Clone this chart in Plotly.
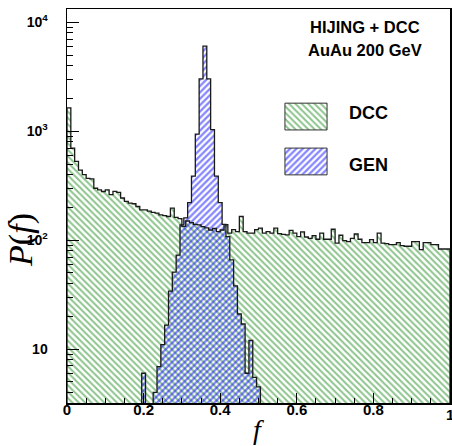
import plotly.graph_objects as go

# ---------------- data ----------------
# DCC histogram: 100 bins of width 0.01 from f = 0 to 1
dcc_bin_low = 0.0
bin_width = 0.01
dcc_counts = [
    1640, 700, 530, 440, 400, 370, 365, 300, 290, 280,
    290, 262, 281, 275, 244, 227, 219, 216, 204, 190,
    190, 185, 180, 177, 171, 168, 165, 197, 162, 158,
    134, 150, 145, 140, 138, 133, 130, 124, 128, 120,
    124, 139, 116, 125, 120, 165, 120, 116, 116, 125,
    129, 116, 120, 116, 129, 115, 113, 112, 123, 116,
    108, 119, 107, 104, 110, 102, 116, 102, 102, 126,
    94, 111, 99, 97, 104, 114, 102, 95, 95, 101,
    95, 116, 94, 93, 91, 91, 95, 89, 88, 88,
    97, 97, 82, 95, 95, 91, 91, 83, 83, 83,
]
# GEN histogram: bins of width 0.01 centred on 0.20 ... 0.50
gen_bin_low = 0.195
gen_counts = [
    6, 0, 0, 4, 6.9, 11, 16.6, 34, 51, 73,
    138, 160, 221, 387, 940, 3035, 6050, 3035, 1035, 387,
    221, 140, 108, 66, 38, 21, 17, 6, 12, 5.5,
    4.5,
]

y_range_log = [0.505, 4.123]
y_major = [10, 100, 1000, 10000]
y_major_text = ["<b>10</b>", "<b>10<sup>2</sup></b>", "<b>10<sup>3</sup></b>", "<b>10<sup>4</sup></b>"]
x_major = [0, 0.2, 0.4, 0.6, 0.8]
x_major_text = ["0", "0.2", "0.4", "0.6", "0.8"]
x_last_label = "1"

GREEN = "rgb(25,135,25)"
BLUE = "rgb(10,10,255)"
OUTLINE = "#1a1a1a"
HATCH_SIZE = 4.5
GREEN_SOLID = 0.45
BLUE_SOLID = 0.5


def centers(lo, n):
    return [lo + bin_width * (i + 0.5) for i in range(n)]


def step_outline(lo, counts, floor):
    edges = [lo + bin_width * i for i in range(len(counts) + 1)]
    ys = [c if c > 0 else floor for c in counts]
    xs = [edges[0]] + edges[:-1] + [edges[-1], edges[-1]]
    yy = [floor] + ys + [ys[-1], floor]
    return xs, yy


floor_val = 10 ** y_range_log[0] / 10

fig = go.Figure()

# filled hatched histograms
fig.add_trace(go.Bar(
    x=centers(dcc_bin_low, len(dcc_counts)), y=dcc_counts, width=bin_width,
    marker=dict(color="rgba(0,0,0,0)", line=dict(width=0),
                pattern=dict(shape="\\", fgcolor=GREEN, size=HATCH_SIZE, solidity=GREEN_SOLID)),
    showlegend=False, hoverinfo="skip"))
fig.add_trace(go.Bar(
    x=centers(gen_bin_low, len(gen_counts)), y=[c if c > 0 else None for c in gen_counts],
    width=bin_width,
    marker=dict(color="rgba(0,0,0,0)", line=dict(width=0),
                pattern=dict(shape="/", fgcolor=BLUE, size=HATCH_SIZE, solidity=BLUE_SOLID)),
    showlegend=False, hoverinfo="skip"))

# outlines
for lo, cnt in ((dcc_bin_low, dcc_counts), (gen_bin_low, gen_counts)):
    xs, yy = step_outline(lo, cnt, floor_val)
    fig.add_trace(go.Scatter(x=xs, y=yy, mode="lines", line=dict(color=OUTLINE, width=1.3, shape="hv"),
                             showlegend=False, hoverinfo="skip"))

# legend patches on an overlay axis (plot-area fractions)
legend_boxes = [
    ("DCC", "\\", GREEN, GREEN_SOLID, 0.569, 0.679, 0.693, 0.761, 0.735),
    ("GEN", "/", BLUE, BLUE_SOLID, 0.569, 0.679, 0.579, 0.647, 0.604),
]
for name, shp, col, sol, x0, x1, y0, y1, ty in legend_boxes:
    fig.add_trace(go.Scatter(
        x=[x0, x1, x1, x0, x0], y=[y0, y0, y1, y1, y0], xaxis="x2", yaxis="y2",
        mode="lines", fill="toself", fillcolor="rgba(0,0,0,0)",
        fillpattern=dict(shape=shp, fgcolor=col, size=HATCH_SIZE, solidity=sol),
        line=dict(color="#333333", width=1), showlegend=False, hoverinfo="skip"))

annotations = []
for name, shp, col, sol, x0, x1, y0, y1, ty in legend_boxes:
    annotations.append(dict(text="<b>" + name + "</b>", x=0.731, y=ty, xref="paper", yref="paper",
                            xanchor="left", yanchor="middle", showarrow=False,
                            font=dict(family="Liberation Sans", size=18, color="black")))
annotations += [
    dict(text="<b>HIJING + DCC</b>", x=0.778, y=0.955, xref="paper", yref="paper",
         xanchor="center", yanchor="middle", showarrow=False,
         font=dict(family="Liberation Sans", size=16.5, color="black")),
    dict(text="<b>AuAu 200 GeV</b>", x=0.778, y=0.896, xref="paper", yref="paper",
         xanchor="center", yanchor="middle", showarrow=False,
         font=dict(family="Liberation Sans", size=16.5, color="black")),
    dict(text="<i>P</i>(<i>f</i>)", x=-0.12, y=0.414, xref="paper", yref="paper",
         xanchor="center", yanchor="middle", showarrow=False, textangle=-90,
         font=dict(family="Liberation Serif", size=34, color="black")),
    dict(text="<i>f</i>", x=0.499, y=-0.066, xref="paper", yref="paper",
         xanchor="center", yanchor="middle", showarrow=False,
         font=dict(family="Liberation Serif", size=28, color="black")),
    dict(text="<b>" + x_last_label + "</b>", x=1.0, y=-0.003, xref="paper", yref="paper",
         xanchor="center", yanchor="top", showarrow=False,
         font=dict(family="Liberation Sans", size=15, color="black")),
]

minor_y = [m * 10 ** k for k in range(0, 5) for m in range(2, 10)]

fig.update_layout(
    width=452, height=446,
    margin=dict(l=67, r=2, t=9, b=43),
    paper_bgcolor="white", plot_bgcolor="rgba(0,0,0,0)",
    barmode="overlay", bargap=0,
    annotations=annotations,
    xaxis=dict(range=[0, 1], showgrid=False, zeroline=False, showline=True, linecolor="black",
               linewidth=1.5, mirror=True, ticks="inside", ticklen=10, tickwidth=1, tickcolor="black",
               tickvals=x_major, ticktext=x_major_text, automargin=False,
               tickfont=dict(family="Liberation Sans", size=15, color="black", weight="bold"),
               ticklabelstandoff=-8,
               minor=dict(ticks="inside", ticklen=5, tickwidth=1, tickcolor="black", dtick=0.05, showgrid=False)),
    yaxis=dict(type="log", range=y_range_log, showgrid=False, zeroline=False, showline=True,
               linecolor="black", linewidth=1.5, mirror=True, ticks="inside", ticklen=12, tickwidth=1,
               tickcolor="black", tickvals=y_major, ticktext=y_major_text, automargin=False,
               tickfont=dict(family="Liberation Sans", size=14, color="black"),
               ticklabelstandoff=15,
               minor=dict(ticks="inside", ticklen=6, tickwidth=1, tickcolor="black", tickvals=minor_y,
                          showgrid=False)),
    xaxis2=dict(range=[0, 1], visible=False, overlaying="x", fixedrange=True),
    yaxis2=dict(range=[0, 1], visible=False, overlaying="y", fixedrange=True),
)

# remove the default page margin so the figure fills the window exactly
fig.write_html("out.html", config={"displayModeBar": False, "staticPlot": True},
               post_script="document.body.style.margin='0';document.body.style.overflow='hidden';")
